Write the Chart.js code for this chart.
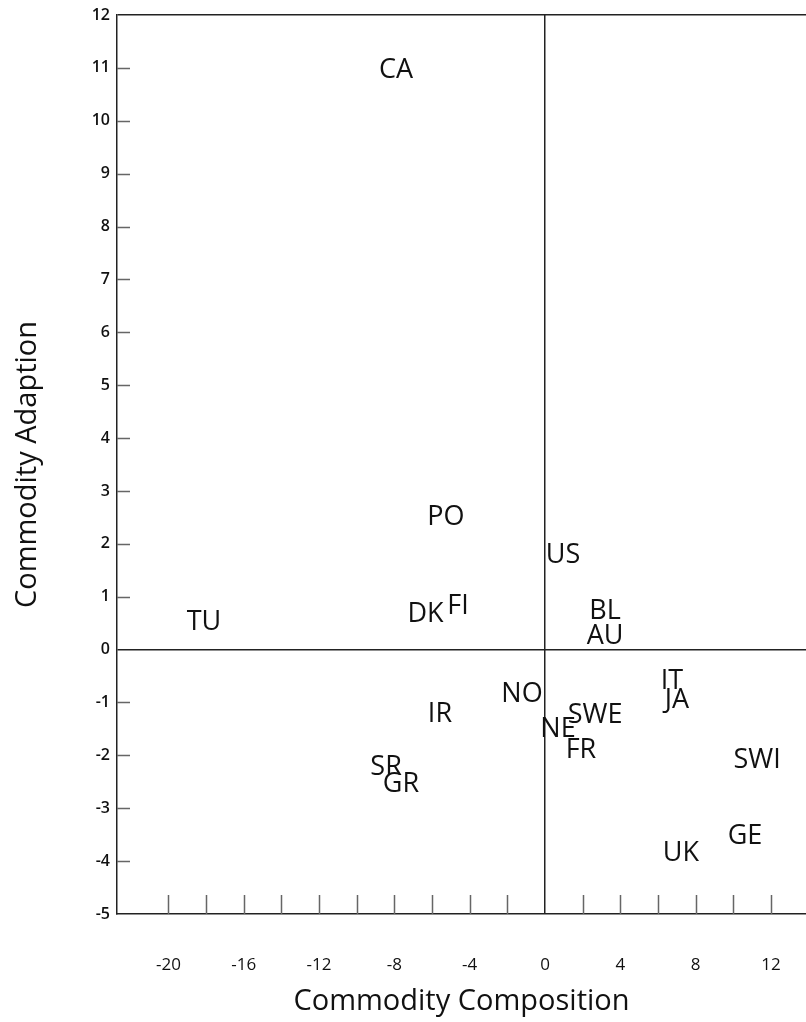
<!DOCTYPE html>
<html>
<head>
<meta charset="utf-8">
<script src="https://cdn.jsdelivr.net/npm/chart.js@4"></script>
<style>
  body { margin: 0; background: #fff; }
  #wrap { width: 806px; height: 1022px; }
</style>
</head>
<body>
<div id="wrap"><canvas id="chart" width="806" height="1022"></canvas></div>
<script>
// country codes and their positions
const codes = ['CA', 'PO', 'US', 'TU', 'DK', 'FI', 'BL', 'AU', 'IT', 'JA',
  'NO', 'IR', 'SWE', 'NE', 'FR', 'SWI', 'SR', 'GR', 'GE', 'UK'];
const composition = [-7.91, -5.26, 0.96, -18.11, -6.35, -4.62, 3.19, 3.19, 6.74, 7.01,
  -1.22, -5.58, 2.66, 0.69, 1.91, 11.26, -8.44, -7.65, 10.62, 7.22];
const adaption = [10.99, 2.54, 1.82, 0.56, 0.71, 0.86, 0.76, 0.29, -0.56, -0.92,
  -0.81, -1.19, -1.20, -1.47, -1.86, -2.05, -2.19, -2.51, -3.5, -3.81];

// axis ticks
const xTicks = [-20, -18, -16, -14, -12, -10, -8, -6, -4, -2, 0, 2, 4, 6, 8, 10, 12];
const xLabels = [-20, -16, -12, -8, -4, 0, 4, 8, 12];
const yTicks = [12, 11, 10, 9, 8, 7, 6, 5, 4, 3, 2, 1, 0, -1, -2, -3, -4, -5];

const FONT = '"Open Sans", "DejaVu Sans", sans-serif';
const labelSize = 27;

const points = composition.map((x, i) => ({ x: x, y: adaption[i] }));

// draws the small inner tick marks on both axes
const innerTicks = {
  id: 'innerTicks',
  afterDraw(chart) {
    const { ctx, chartArea, scales } = chart;
    ctx.save();
    ctx.strokeStyle = '#666';
    ctx.lineWidth = 1.5;
    ctx.beginPath();
    xTicks.forEach(v => {
      if (v === 0) return;
      const px = Math.round(scales.x.getPixelForValue(v)) + 0.5;
      ctx.moveTo(px, chartArea.bottom);
      ctx.lineTo(px, chartArea.bottom - 19);
    });
    yTicks.forEach(v => {
      if (v === 0 || v === 12 || v === -5) return;
      const py = Math.round(scales.y.getPixelForValue(v)) + 0.5;
      ctx.moveTo(chartArea.left, py);
      ctx.lineTo(chartArea.left + 13, py);
    });
    ctx.stroke();
    ctx.restore();
  }
};

// country code text in place of the points
const pointText = {
  id: 'pointText',
  afterDatasetsDraw(chart) {
    const ctx = chart.ctx;
    const meta = chart.getDatasetMeta(0);
    ctx.save();
    ctx.fillStyle = '#111';
    ctx.font = labelSize + 'px ' + FONT;
    ctx.textAlign = 'center';
    ctx.textBaseline = 'alphabetic';
    meta.data.forEach((pt, i) => {
      ctx.fillText(codes[i], pt.x, pt.y + labelSize * 0.357);
    });
    ctx.restore();
  }
};

new Chart(document.getElementById('chart'), {
  type: 'scatter',
  data: {
    datasets: [{
      data: points,
      pointRadius: 0,
      pointHoverRadius: 0
    }]
  },
  options: {
    responsive: false,
    animation: false,
    layout: { padding: { top: 15, right: 0, left: 0, bottom: 0 } },
    plugins: {
      legend: { display: false },
      tooltip: { enabled: false }
    },
    scales: {
      x: {
        type: 'linear',
        min: -22.73,
        max: 13.86,
        afterBuildTicks: s => { s.ticks = xTicks.map(v => ({ value: v })); },
        afterFit: s => { s.height = 108; s.paddingLeft = 0; s.paddingRight = 0; },
        border: { display: true, color: '#222', width: 1.5 },
        grid: {
          drawTicks: false,
          lineWidth: 1.5,
          color: c => (c.tick && c.tick.value === 0) ? '#222' : 'rgba(0,0,0,0)'
        },
        ticks: {
          autoSkip: false,
          maxRotation: 0,
          padding: 41,
          color: '#111',
          font: { family: FONT, size: 17 },
          callback: v => xLabels.includes(v) ? String(v) : ''
        },
        title: {
          display: true,
          text: 'Commodity Composition',
          color: '#111',
          font: { family: FONT, size: 29, lineHeight: 1.2 },
          padding: { top: 0, bottom: 3 }
        }
      },
      y: {
        type: 'linear',
        min: -5,
        max: 12,
        afterBuildTicks: s => { s.ticks = yTicks.map(v => ({ value: v })); },
        afterFit: s => { s.width = 117; s.paddingTop = 0; s.paddingBottom = 0; },
        border: { display: true, color: '#222', width: 1.5 },
        grid: {
          drawTicks: false,
          lineWidth: 1.5,
          color: c => (c.tick && (c.tick.value === 0 || c.tick.value === 12)) ? '#222' : 'rgba(0,0,0,0)'
        },
        ticks: {
          padding: 7,
          color: '#111',
          font: { family: FONT, size: 16, weight: '600' }
        },
        title: {
          display: true,
          text: 'Commodity Adaption',
          color: '#111',
          font: { family: FONT, size: 29, lineHeight: 1.2 },
          padding: { top: 10, bottom: 0 }
        }
      }
    }
  },
  plugins: [innerTicks, pointText]
});
</script>
</body>
</html>
